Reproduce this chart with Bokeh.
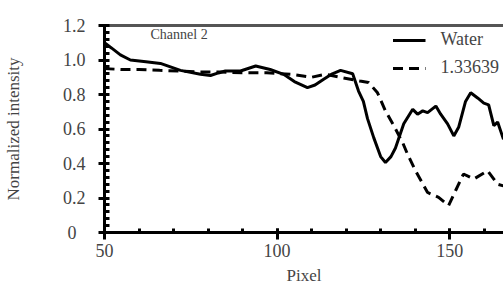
from bokeh.plotting import figure
from bokeh.embed import file_html
from bokeh.resources import INLINE
from bokeh.models import SingleIntervalTicker, FixedTicker, Label, Range1d, LinearAxis

# Water (solid)
water_x = [50, 52, 54.6, 57.5, 62, 66.2, 72, 77.8, 80.7, 83, 85, 89.4, 93.8, 98, 101.9,
           105, 108.8, 111, 113.5, 116, 118.4, 121.9, 123.6, 125, 126.2, 128, 130, 131.4,
           133, 134.3, 136.7, 139.3, 140.7, 142.2, 143.6, 146, 147.4, 149.4, 151.2, 152.6,
           154.6, 156.1, 158.1, 159.9, 161.3, 162.8, 163.9, 165.6]
water_y = [1.10, 1.07, 1.03, 1.00, 0.99, 0.98, 0.94, 0.917, 0.91, 0.925, 0.936, 0.936, 0.965,
           0.945, 0.917, 0.875, 0.84, 0.855, 0.888, 0.92, 0.94, 0.92, 0.82, 0.76, 0.66, 0.55,
           0.44, 0.406, 0.44, 0.49, 0.63, 0.714, 0.686, 0.705, 0.695, 0.733, 0.686, 0.63, 0.56,
           0.61, 0.76, 0.81, 0.78, 0.75, 0.74, 0.62, 0.64, 0.54]

# 1.33639 (dashed)
ref_x = [50, 55, 60, 66, 72, 78, 84, 90, 97, 104, 110, 114, 119, 124, 126.5, 129.1, 131.4,
         133.8, 136.4, 137.8, 140.1, 143.6, 146.8, 149.7, 151.7, 154, 157, 161, 163.9, 165.6]
ref_y = [0.95, 0.945, 0.945, 0.94, 0.936, 0.93, 0.93, 0.926, 0.926, 0.917, 0.90, 0.917, 0.897,
         0.878, 0.87, 0.81, 0.705, 0.62, 0.52, 0.454, 0.358, 0.232, 0.204, 0.156, 0.242, 0.339,
         0.31, 0.358, 0.28, 0.27]

x_ticks = [50, 100, 150]
y_ticks = [0, 0.2, 0.4, 0.6, 0.8, 1.0, 1.2]
y_labels = ["0\u00a0\u00a0", "0.2", "0.4", "0.6", "0.8", "1.0", "1.2"]
y_minor = [round(i * 0.04, 2) for i in range(31)]

FONT = "Liberation Serif"

p = figure(width=503, height=287, output_backend="svg", toolbar_location=None,
           x_range=Range1d(50, 165.6), y_range=Range1d(0, 1.2),
           min_border_left=104, min_border_right=0, min_border_top=25, min_border_bottom=53)
p.outline_line_color = None
p.grid.visible = False
p.background_fill_color = "white"

p.line(water_x, water_y, line_color="black", line_width=3, legend_label="Water")
p.line(ref_x, ref_y, line_color="black", line_width=3, line_dash="10 6", legend_label="1.33639")

# x axis
xa = p.xaxis[0]
xa.ticker = SingleIntervalTicker(interval=50, num_minor_ticks=5)
xa.axis_line_width = 3
xa.major_tick_line_width = 3
xa.minor_tick_line_width = 3
xa.major_tick_in = 4
xa.major_tick_out = 7
xa.minor_tick_in = 4
xa.minor_tick_out = 0
xa.axis_label = "Pixel"
xa.axis_label_text_font = FONT
xa.axis_label_text_font_size = "17px"
xa.axis_label_text_font_style = "normal"
xa.major_label_text_font = FONT
xa.major_label_text_font_size = "18px"
xa.major_label_standoff = 4
xa.axis_label_standoff = 6

# y axis
ya = p.yaxis[0]
ya.ticker = FixedTicker(ticks=y_ticks, minor_ticks=y_minor)
ya.major_label_overrides = {t: l for t, l in zip(y_ticks, y_labels)}
ya.axis_line_width = 3
ya.major_tick_line_width = 3
ya.minor_tick_line_width = 3
ya.major_tick_in = 2
ya.major_tick_out = 6
ya.minor_tick_in = 5
ya.minor_tick_out = 0
ya.axis_label = "Normalized intensity"
ya.axis_label_text_font = FONT
ya.axis_label_text_font_size = "17px"
ya.axis_label_text_font_style = "normal"
ya.major_label_text_font = FONT
ya.major_label_text_font_size = "18px"
ya.major_label_standoff = 13
ya.axis_label_standoff = 37

# top border line
top = LinearAxis(ticker=[], major_label_text_font_size="0px", axis_line_color="#555555",
                 axis_line_width=3, major_tick_line_color=None, minor_tick_line_color=None)
p.add_layout(top, "above")

p.add_layout(Label(x=46, y=198, x_units="screen", y_units="screen",
                   text="Channel 2", text_font=FONT, text_font_size="14px",
                   text_baseline="alphabetic"))

p.legend.location = "top_right"
p.legend.border_line_color = None
p.legend.background_fill_alpha = 0
p.legend.label_text_font = FONT
p.legend.label_text_font_size = "18px"
p.legend.glyph_width = 33
p.legend.glyph_height = 20
p.legend.label_height = 20
p.legend.label_standoff = 15
p.legend.spacing = 7
p.legend.margin = 4
p.legend.padding = 3

open("out.html", "w").write(file_html(p, INLINE))
